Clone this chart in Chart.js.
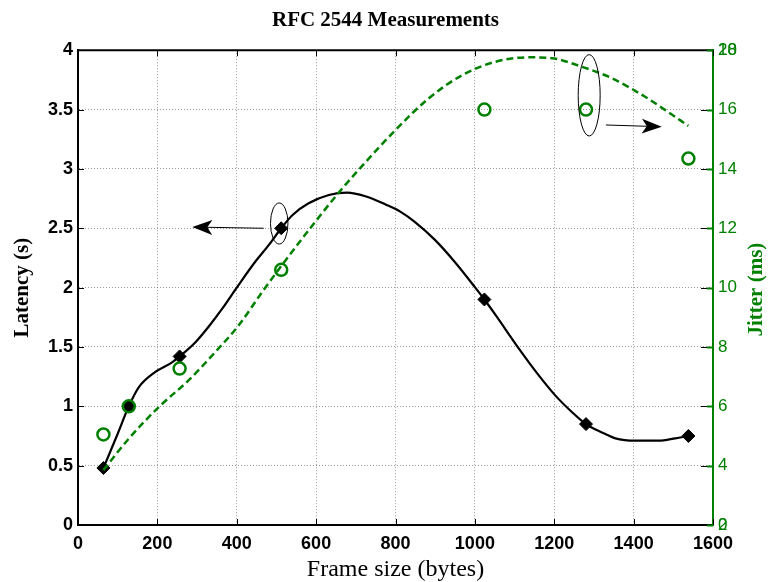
<!DOCTYPE html>
<html>
<head>
<meta charset="utf-8">
<script src="https://cdn.jsdelivr.net/npm/chart.js@4"></script>
<style>
  html, body { margin: 0; padding: 0; background: #fff; }
</style>
</head>
<body>
<canvas id="chart" width="771" height="582"></canvas>
<script>
// measured points (frame size in bytes)
const frameSizes = [64, 128, 256, 512, 1024, 1280, 1538];
const latency = [0.48, 1.0, 1.42, 2.5, 1.9, 0.85, 0.75];      // s
const jitter = [5.05, 6.0, 7.27, 10.6, 16.0, 16.0, 14.35];    // ms

// fitted curves
const latencyCurveX = [64, 99, 128, 153, 195, 237, 256, 296, 329, 363, 400, 447, 481, 512, 540, 581, 632, 678, 724, 775, 812, 850, 900, 951, 1001, 1024, 1052, 1110, 1161, 1203, 1245, 1280, 1320, 1354, 1404, 1463, 1505, 1538];
const latencyCurve = [0.48, 0.76, 1.0, 1.16, 1.29, 1.37, 1.42, 1.54, 1.67, 1.82, 2.0, 2.22, 2.36, 2.5, 2.61, 2.71, 2.78, 2.80, 2.77, 2.70, 2.64, 2.55, 2.40, 2.21, 2.0, 1.90, 1.77, 1.49, 1.26, 1.09, 0.95, 0.85, 0.78, 0.73, 0.71, 0.71, 0.73, 0.75];
const jitterCurveX = [64, 128, 204, 279, 346, 405, 464, 514, 598, 657, 716, 800, 884, 968, 1052, 1135, 1194, 1270, 1346, 1429, 1480, 1538];
const jitterCurve = [3.85, 4.91, 5.98, 6.88, 7.83, 8.73, 9.85, 10.76, 12.22, 13.2, 14.1, 15.31, 16.38, 17.16, 17.61, 17.76, 17.73, 17.44, 17.05, 16.43, 15.98, 15.45];

// axis ticks
const xTicks = [0, 200, 400, 600, 800, 1000, 1200, 1400, 1600];
const latencyTicks = [0, 0.5, 1, 1.5, 2, 2.5, 3, 3.5, 4];
const jitterTicks = [2, 4, 6, 8, 10, 12, 14, 16, 18];
// second set of jitter labels that sits on top of the first one (0 over 2, 20 over 18)
const jitterOverlapTicks = [2, 18];
const jitterOverlapLabels = ['0', '20'];

const GREEN = '#008000';
const GRID = 'rgba(0,0,0,0.4)';
const SANS = '"Liberation Sans", Arial, sans-serif';
const SERIF = '"Liberation Serif", "Times New Roman", serif';

// ellipses and arrows, in data units (x bytes, y latency)
const notes = {
  ellipses: [
    { x: 507, y: 2.54, rx: 22, ry: 0.173 },
    { x: 1288, y: 3.62, rx: 27.7, ry: 0.343 }
  ],
  arrows: [
    { from: [468, 2.50], to: [288, 2.51] },
    { from: [1330, 3.37], to: [1471, 3.355] }
  ]
};

const toXY = (xs, ys) => xs.map((x, i) => ({ x: x, y: ys[i] }));

const edgeColor = (lo, hi) => ctx =>
  (ctx.tick && (ctx.tick.value === lo || ctx.tick.value === hi)) ? 'rgba(0,0,0,0)' : GRID;

const decor = {
  id: 'decor',
  afterDraw(chart) {
    const { ctx, chartArea: a, scales } = chart;
    const x = scales.x, y = scales.y, y1 = scales.y1;
    ctx.save();

    // top box line
    ctx.strokeStyle = '#000';
    ctx.lineWidth = 2;
    ctx.beginPath();
    ctx.moveTo(a.left, a.top);
    ctx.lineTo(a.right, a.top);
    ctx.stroke();

    // inward tick marks
    ctx.lineWidth = 1;
    ctx.strokeStyle = '#000';
    ctx.beginPath();
    xTicks.forEach(v => {
      const px = Math.round(x.getPixelForValue(v)) + 0.5;
      ctx.moveTo(px, a.bottom); ctx.lineTo(px, a.bottom - 6);
      ctx.moveTo(px, a.top); ctx.lineTo(px, a.top + 6);
    });
    latencyTicks.forEach(v => {
      const py = Math.round(y.getPixelForValue(v)) + 0.5;
      ctx.moveTo(a.left, py); ctx.lineTo(a.left + 6, py);
      ctx.moveTo(a.right - 12, py); ctx.lineTo(a.right - 6, py);
    });
    ctx.stroke();
    ctx.strokeStyle = GREEN;
    ctx.lineWidth = 2;
    ctx.beginPath();
    jitterTicks.forEach(v => {
      const py = Math.round(y1.getPixelForValue(v)) + 0.5;
      ctx.moveTo(a.right, py); ctx.lineTo(a.right - 6, py);
    });
    ctx.stroke();

    // overlapping right labels
    ctx.fillStyle = GREEN;
    ctx.font = '17px ' + SANS;
    ctx.textAlign = 'left';
    ctx.textBaseline = 'middle';
    jitterOverlapTicks.forEach((v, i) => {
      ctx.fillText(jitterOverlapLabels[i], a.right + 5, y1.getPixelForValue(v));
    });

    // right axis title, reading upwards like the left one
    ctx.save();
    ctx.translate(757, (a.top + a.bottom) / 2 + 2);
    ctx.rotate(-Math.PI / 2);
    ctx.font = 'bold 21px ' + SERIF;
    ctx.textAlign = 'center';
    ctx.textBaseline = 'middle';
    ctx.fillText('Jitter (ms)', 0, 0);
    ctx.restore();

    // ellipses
    ctx.strokeStyle = '#000';
    ctx.lineWidth = 1;
    notes.ellipses.forEach(e => {
      const cx = x.getPixelForValue(e.x), cy = y.getPixelForValue(e.y);
      const rx = x.getPixelForValue(e.x + e.rx) - cx;
      const ry = cy - y.getPixelForValue(e.y + e.ry);
      ctx.beginPath();
      ctx.ellipse(cx, cy, rx, ry, 0, 0, Math.PI * 2);
      ctx.stroke();
    });

    // arrows
    notes.arrows.forEach(ar => {
      const x0 = x.getPixelForValue(ar.from[0]), y0 = y.getPixelForValue(ar.from[1]);
      const x1 = x.getPixelForValue(ar.to[0]), y1p = y.getPixelForValue(ar.to[1]);
      const ang = Math.atan2(y1p - y0, x1 - x0);
      ctx.beginPath();
      ctx.moveTo(x0, y0);
      ctx.lineTo(x1 - 14 * Math.cos(ang), y1p - 14 * Math.sin(ang));
      ctx.stroke();
      const c = Math.cos(ang), s = Math.sin(ang);
      const pt = (back, side) => [x1 - back * c - side * s, y1p - back * s + side * c];
      ctx.fillStyle = '#000';
      ctx.beginPath();
      ctx.moveTo(x1, y1p);
      let p = pt(20, 7.5); ctx.lineTo(p[0], p[1]);
      p = pt(15, 0); ctx.lineTo(p[0], p[1]);
      p = pt(20, -7.5); ctx.lineTo(p[0], p[1]);
      ctx.closePath();
      ctx.fill();
    });
    ctx.restore();
  }
};

new Chart(document.getElementById('chart'), {
  type: 'scatter',
  data: {
    datasets: [
      {
        label: 'Jitter',
        data: toXY(frameSizes, jitter),
        yAxisID: 'y1',
        order: 0,
        showLine: false,
        pointStyle: 'circle',
        pointRadius: 6,
        pointBorderWidth: 2.5,
        pointBorderColor: GREEN,
        pointBackgroundColor: 'rgba(0,0,0,0)'
      },
      {
        label: 'Jitter fit',
        data: toXY(jitterCurveX, jitterCurve),
        yAxisID: 'y1',
        order: 1,
        showLine: true,
        borderColor: GREEN,
        borderWidth: 2.5,
        borderDash: [7, 4],
        cubicInterpolationMode: 'monotone',
        pointRadius: 0
      },
      {
        label: 'Latency',
        data: toXY(frameSizes, latency),
        yAxisID: 'y',
        order: 2,
        showLine: false,
        pointStyle: ['rectRot', 'circle', 'rectRot', 'rectRot', 'rectRot', 'rectRot', 'rectRot'],
        pointRadius: [6.5, 5, 6.5, 6.5, 6.5, 6.5, 6.5],
        pointBackgroundColor: '#000',
        pointBorderColor: '#000',
        pointBorderWidth: 1
      },
      {
        label: 'Latency fit',
        data: toXY(latencyCurveX, latencyCurve),
        yAxisID: 'y',
        order: 3,
        showLine: true,
        borderColor: '#000',
        borderWidth: 2.2,
        cubicInterpolationMode: 'monotone',
        pointRadius: 0
      }
    ]
  },
  options: {
    responsive: false,
    devicePixelRatio: 1,
    animation: false,
    layout: { padding: 0 },
    plugins: {
      legend: { display: false },
      tooltip: { enabled: false },
      title: {
        display: true,
        text: 'RFC 2544 Measurements',
        color: '#000',
        font: { family: SERIF, size: 21, weight: 'bold', lineHeight: 1.2 },
        padding: { top: 8, bottom: 17 }
      }
    },
    scales: {
      x: {
        type: 'linear',
        min: 0,
        max: 1600,
        afterBuildTicks: s => { s.ticks = xTicks.map(v => ({ value: v })); },
        afterFit: s => { s.height = 57; },
        ticks: {
          color: '#000',
          padding: 8,
          maxRotation: 0,
          callback: v => String(v),
          font: { family: SANS, size: 18, weight: 'bold' }
        },
        grid: { color: edgeColor(0, 1600), drawTicks: false, lineWidth: 1 },
        border: { color: '#000', width: 2, dash: [1, 2] },
        title: {
          display: true,
          text: 'Frame size (bytes)',
          color: '#000',
          font: { family: SERIF, size: 24, lineHeight: 1 },
          padding: { top: 0, bottom: 0 }
        }
      },
      y: {
        position: 'left',
        min: 0,
        max: 4,
        afterBuildTicks: s => { s.ticks = latencyTicks.map(v => ({ value: v })); },
        afterFit: s => { s.width = 78; },
        ticks: {
          color: '#000',
          padding: 5,
          callback: v => String(v),
          font: { family: SANS, size: 18, weight: 'bold' }
        },
        grid: { color: edgeColor(0, 4), drawTicks: false, lineWidth: 1 },
        border: { color: '#000', width: 2, dash: [1, 2] },
        title: {
          display: true,
          text: 'Latency (s)',
          color: '#000',
          font: { family: SERIF, size: 21, weight: 'bold', lineHeight: 1.2 },
          padding: { top: 10, bottom: 0 }
        }
      },
      y1: {
        position: 'right',
        min: 2,
        max: 18,
        afterBuildTicks: s => { s.ticks = jitterTicks.map(v => ({ value: v })); },
        afterFit: s => { s.width = 58; },
        ticks: {
          color: GREEN,
          padding: 5,
          callback: v => String(v),
          font: { family: SANS, size: 17 }
        },
        grid: { display: false, drawTicks: false },
        border: { color: GREEN, width: 2 },
        title: { display: false }
      }
    }
  },
  plugins: [decor]
});
</script>
</body>
</html>
